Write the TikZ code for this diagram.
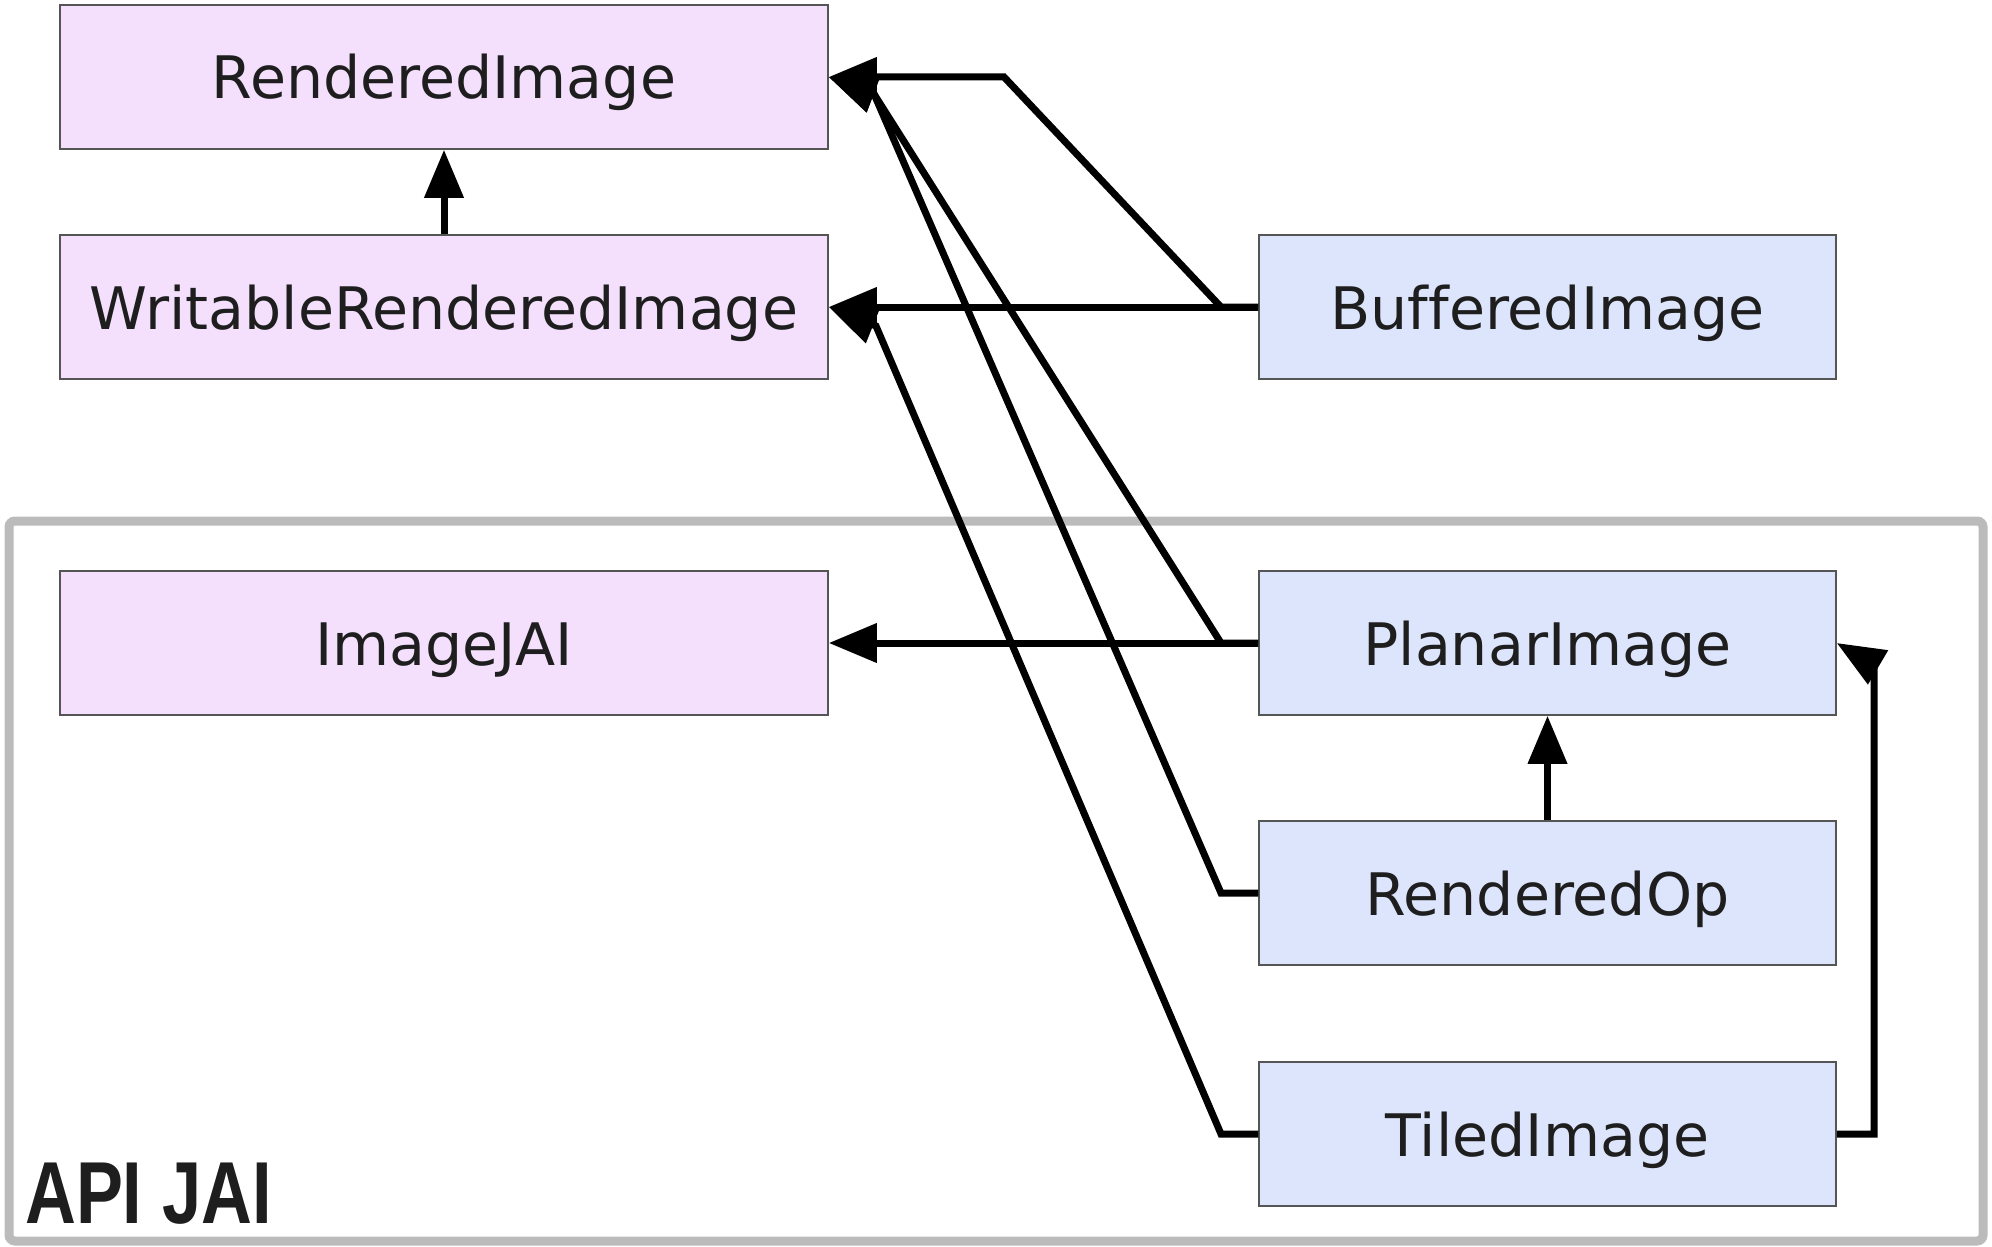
\documentclass[tikz,border=0pt]{standalone}
\usepackage{fontspec}
\setmainfont[Ligatures=NoCommon]{DejaVu Sans}
\newfontfamily\labelfont{Liberation Sans}
\usetikzlibrary{arrows.meta}
\definecolor{pinkfill}{HTML}{F4DFFD}
\definecolor{bluefill}{HTML}{DDE5FC}
\definecolor{boxline}{HTML}{555555}
\definecolor{framegray}{HTML}{BBBBBB}
\definecolor{txt}{HTML}{1E1E1E}
\tikzset{
  cls/.style={draw=boxline, line width=1.5pt, inner sep=0pt, text=txt,
    text height=44pt, text depth=0pt,
    font=\fontsize{58.6}{70}\selectfont},
  leftcls/.style={cls, fill=pinkfill, minimum width=768pt, minimum height=144pt},
  rightcls/.style={cls, fill=bluefill, minimum width=577pt, minimum height=144pt},
  conn/.style={line width=7pt, draw=black, line join=miter,
    -{Triangle[length=48pt,width=38pt]}},
}
\begin{document}
\begin{tikzpicture}[x=1pt,y=-1pt]
\useasboundingbox (0,0) rectangle (1992,1247);
% frame
\draw[framegray, line width=9pt, rounded corners=6pt] (9,521) rectangle (1983,1241);
\node[anchor=base west, text=txt, inner sep=0pt, font=\labelfont\bfseries\fontsize{88}{100}\selectfont] (apijai) at (25,1223) {\scalebox{0.8}[1]{API JAI}};
% classes
\node[leftcls] (ri) at (444,77) {RenderedImage};
\node[leftcls] (wri) at (444,307) {WritableRenderedImage};
\node[leftcls] (jai) at (444,643) {ImageJAI};
\node[rightcls] (bi) at (1547.5,307) {BufferedImage};
\node[rightcls] (pi) at (1547.5,643) {PlanarImage};
\node[rightcls] (ro) at (1547.5,893) {RenderedOp};
\node[rightcls] (ti) at (1547.5,1134) {TiledImage};
% bend points
\coordinate (biK) at (1221,307);
\coordinate (biT) at (1004,77);
\coordinate (piK) at (1221,643);
\coordinate (roK) at (1221,893);
\coordinate (tiK) at (1221,1134);
\coordinate (topJ) at (874,94);
\coordinate (midJ) at (876,326);
\coordinate (tiR) at (1874,1134);
\coordinate (tiU) at (1874,665);
% connectors
\draw[conn] (wri.north) -- (ri.south);
\draw[conn] (ro.north) -- (pi.south);
\draw[conn] (bi.west) -- (biK) -- (biT) -- (ri.east |- biT);
\draw[conn] (bi.west) -- (wri.east);
\draw[conn] (pi.west) -- (jai.east);
\draw[conn] (pi.west) -- (piK) -- (topJ) -- (ri.east);
\draw[conn] (ro.west) -- (roK) -- (topJ) -- (ri.east);
\draw[conn] (ti.west) -- (tiK) -- (midJ) -- (wri.east);
\draw[conn] (ti.east) -- (tiR) -- (tiU) -- (pi.east);
\end{tikzpicture}
\end{document}
